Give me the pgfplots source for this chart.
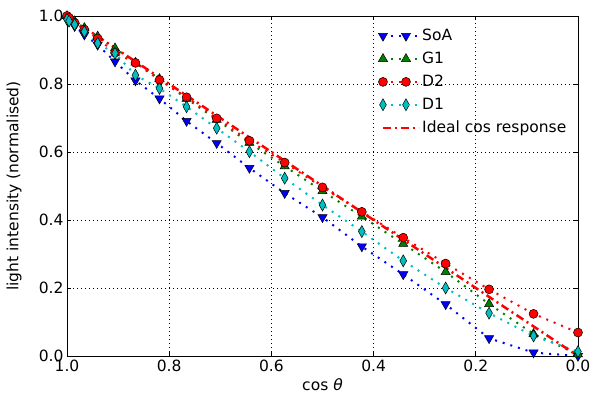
\documentclass[border=0pt]{standalone}
\usepackage{fontspec}
\setmainfont{DejaVu Sans}
\usepackage{pgfplots}
\pgfplotsset{compat=1.18}
\definecolor{mblue}{rgb}{0,0,1}
\definecolor{mgreen}{rgb}{0,0.5,0}
\definecolor{mred}{rgb}{1,0,0}
\definecolor{mcyan}{rgb}{0,0.75,0.75}
\newcommand{\fs}{\fontsize{15.5bp}{18bp}\selectfont}
\begin{document}
\begin{tikzpicture}
\begin{axis}[
  scale only axis, width=511bp, height=340bp,
  xmin=0, xmax=1, ymin=0, ymax=1, x dir=reverse,
  xtick={0,0.2,0.4,0.6,0.8,1.0}, ytick={0,0.2,0.4,0.6,0.8,1.0},
  tick align=inside, major tick length=4bp,
  tick style={black, line width=0.6bp},
  axis line style={black, line width=0.8bp},
  grid=major, major grid style={black, dash pattern=on 1bp off 3bp, line width=0.6bp},
  ticklabel style={font=\fs},
  /pgf/number format/assume math mode=true,
  xticklabel style={/pgf/number format/.cd, fixed, fixed zerofill, precision=1},
  yticklabel style={/pgf/number format/.cd, fixed, fixed zerofill, precision=1},
  xlabel={cos \textit{θ}}, ylabel={light intensity (normalised)},
  label style={font=\fs},
  xlabel style={at={(axis description cs:0.5,-0.0853)}, anchor=center},
  ylabel style={at={(axis description cs:-0.1037,0.5)}, anchor=center},
  legend style={at={(0.609,0.967)}, anchor=north west, draw=none, fill=none,
    font=\fs, row sep=6bp, inner sep=0pt},
  legend cell align=left,
  legend image code/.code={\draw[#1] plot coordinates {(0bp,0bp) (23bp,0bp)}; \path (0bp,0bp) -- (36bp,0bp);},
  every axis plot/.append style={line width=2bp, dash pattern=on 2bp off 6bp},
]
\addplot[mblue, mark=triangle*, mark size=5.3bp, mark options={rotate=180, solid, fill=mblue, draw=black, line width=0.5bp}] coordinates {
(1.000,0.990) (0.996,0.985) (0.985,0.970) (0.966,0.945) (0.940,0.915) (0.906,0.866)
(0.866,0.810) (0.819,0.757) (0.766,0.691) (0.707,0.626) (0.643,0.553) (0.574,0.479)
(0.500,0.408) (0.423,0.322) (0.342,0.240) (0.259,0.152) (0.174,0.052) (0.087,0.010) (0.000,0.000)};
\addlegendentry{SoA}
\addplot[mgreen, mark=triangle*, mark size=5.3bp, mark options={solid, fill=mgreen, draw=black, line width=0.5bp}] coordinates {
(1.000,1.000) (0.996,0.995) (0.985,0.985) (0.966,0.965) (0.940,0.940) (0.906,0.905)
(0.866,0.863) (0.819,0.815) (0.766,0.757) (0.707,0.695) (0.643,0.627) (0.574,0.558)
(0.500,0.485) (0.423,0.410) (0.342,0.330) (0.259,0.247) (0.174,0.153) (0.087,0.065) (0.000,0.005)};
\addlegendentry{G1}
\addplot[mred, mark=*, mark size=4.5bp, mark options={solid, fill=mred, draw=black, line width=0.5bp}] coordinates {
(1.000,1.000) (0.996,0.995) (0.985,0.980) (0.966,0.960) (0.940,0.934) (0.906,0.892)
(0.866,0.862) (0.819,0.812) (0.766,0.761) (0.707,0.699) (0.643,0.633) (0.574,0.569)
(0.500,0.496) (0.423,0.424) (0.342,0.348) (0.259,0.272) (0.174,0.196) (0.087,0.124) (0.000,0.069)};
\addlegendentry{D2}
\addplot[mcyan, mark=diamond*, mark size=6bp, mark options={solid, xscale=0.75, fill=mcyan, draw=black, line width=0.5bp}] coordinates {
(1.000,0.990) (0.996,0.985) (0.985,0.975) (0.966,0.954) (0.940,0.920) (0.906,0.890)
(0.866,0.826) (0.819,0.787) (0.766,0.733) (0.707,0.670) (0.643,0.601) (0.574,0.523)
(0.500,0.444) (0.423,0.366) (0.342,0.280) (0.259,0.200) (0.174,0.126) (0.087,0.059) (0.000,0.013)};
\addlegendentry{D1}
\addplot[mred, line width=2.5bp, dash pattern=on 8bp off 4bp on 2bp off 4bp] coordinates {
(1.000,1.000) (0.966,0.966) (0.906,0.906) (0.819,0.819) (0.707,0.707) (0.574,0.574)
(0.423,0.423) (0.259,0.259) (0.087,0.087) (0.000,0.000)};
\addlegendentry{Ideal cos response}
\end{axis}
\pgfresetboundingbox
\path[use as bounding box] (-67bp,-47bp) rectangle (534bp,356bp);
\end{tikzpicture}
\end{document}
